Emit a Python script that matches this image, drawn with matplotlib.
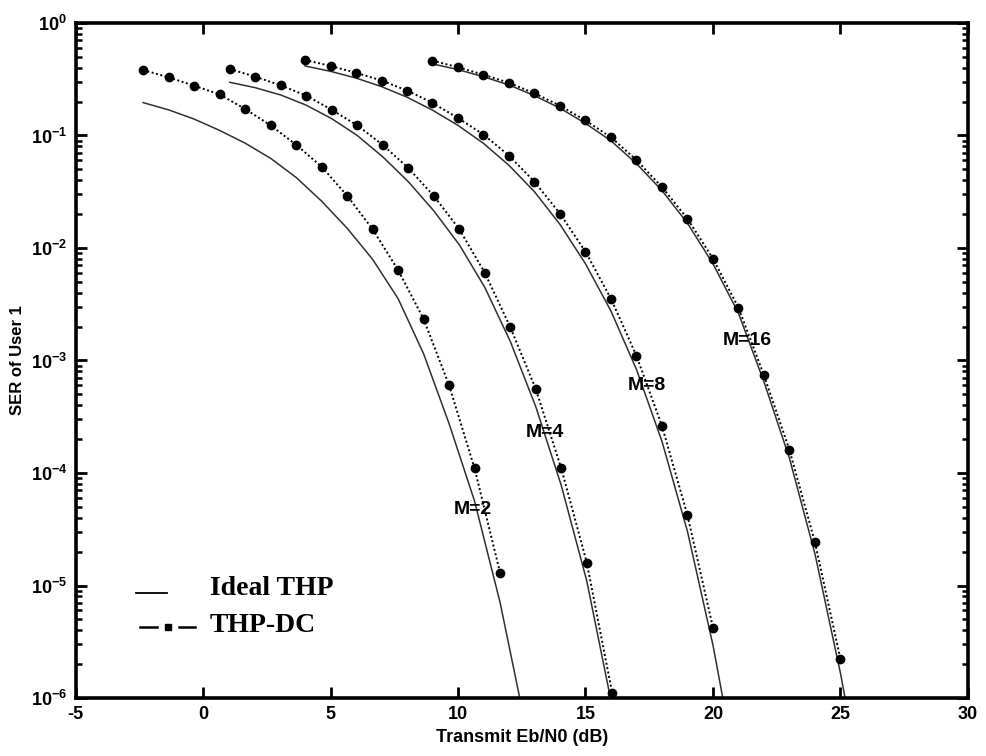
import numpy as np
import matplotlib
matplotlib.use("Agg")
import matplotlib.pyplot as plt
from matplotlib.ticker import LogLocator, FuncFormatter, MultipleLocator, NullFormatter

plt.rcParams['font.family'] = ['Liberation Sans', 'DejaVu Sans']
plt.rcParams['font.weight'] = 'bold'
plt.rcParams['axes.unicode_minus'] = False
plt.rcParams['mathtext.fontset'] = 'custom'
plt.rcParams['mathtext.rm'] = 'Liberation Sans:bold'
plt.rcParams['mathtext.bf'] = 'Liberation Sans:bold'

# Eb/N0 grids (dB), 1 dB steps
ebn0_m2 = np.arange(-2.35, 12.7, 1.0)      # 16 points
ebn0_m4 = np.arange(1.05, 16.1, 1.0)       # 16 points
ebn0_m8 = np.arange(4.0, 21.5, 1.0)        # 18 points
ebn0_m16 = np.arange(9.0, 26.5, 1.0)       # 18 points

# ideal THP symbol error rate
ideal_m2 = [0.196, 0.169, 0.140, 0.111, 0.0855, 0.0627, 0.0424, 0.0261, 0.0150,
            7.94e-3, 3.55e-3, 1.15e-3, 2.75e-4, 5.62e-5, 7.08e-6, 5.62e-7]
ideal_m4 = [0.297, 0.266, 0.229, 0.186, 0.141, 0.100, 0.0646, 0.0389, 0.0214,
            0.0107, 4.47e-3, 1.48e-3, 3.89e-4, 7.76e-5, 1.10e-5, 8.32e-7]
ideal_m8 = [0.415, 0.372, 0.324, 0.272, 0.219, 0.168, 0.123, 0.0851, 0.0543,
            0.0316, 0.0162, 7.24e-3, 2.75e-3, 8.32e-4, 1.91e-4, 3.02e-5, 2.95e-6, 1.78e-7]
ideal_m16 = [0.433, 0.385, 0.333, 0.281, 0.226, 0.175, 0.128, 0.0897, 0.0562,
             0.0324, 0.0166, 7.24e-3, 2.63e-3, 6.46e-4, 1.35e-4, 1.91e-5, 1.66e-6, 1.0e-7]

# THP with decision-feedback compensation (THP-DC)
dc_m2 = [0.382, 0.329, 0.277, 0.232, 0.172, 0.123, 0.0828, 0.0528, 0.0292,
         0.0147, 6.37e-3, 2.34e-3, 6.03e-4, 1.10e-4, 1.30e-5]
dc_m4 = [0.390, 0.333, 0.279, 0.226, 0.169, 0.123, 0.0824, 0.0514, 0.0290,
         0.0147, 6.03e-3, 1.98e-3, 5.58e-4, 1.10e-4, 1.60e-5, 1.10e-6]
dc_m8 = [0.469, 0.415, 0.361, 0.308, 0.251, 0.195, 0.143, 0.102, 0.0661,
         0.0388, 0.0202, 9.27e-3, 3.54e-3, 1.10e-3, 2.62e-4, 4.21e-5, 4.22e-6]
dc_m16 = [0.462, 0.404, 0.347, 0.294, 0.237, 0.184, 0.136, 0.0964, 0.0605,
          0.0348, 0.0182, 8.04e-3, 2.94e-3, 7.38e-4, 1.60e-4, 2.42e-5, 2.21e-6]

curve_labels = ['M=2', 'M=4', 'M=8', 'M=16']
label_x = [10.59, 13.41, 17.41, 21.33]
label_y = [4.7e-5, 2.27e-4, 6.05e-4, 1.52e-3]

fig = plt.figure(figsize=(9.86, 7.56), dpi=100)
ax = fig.add_axes([0.0766, 0.0767, 0.9051, 0.8929])

ideal = [(ebn0_m2, ideal_m2), (ebn0_m4, ideal_m4), (ebn0_m8, ideal_m8), (ebn0_m16, ideal_m16)]
dc = [(ebn0_m2, dc_m2), (ebn0_m4, dc_m4), (ebn0_m8, dc_m8), (ebn0_m16, dc_m16)]

for x, y in ideal:
    ax.plot(x[:len(y)], y, '-', color='#303030', lw=1.1)
for x, y in dc:
    ax.plot(x[:len(y)], y, color='black', lw=1.4, linestyle=(0, (1.0, 1.3)),
            marker='o', markersize=6, markerfacecolor='black', markeredgecolor='black')

for t, xx, yy in zip(curve_labels, label_x, label_y):
    ax.text(xx, yy, t, ha='center', va='center', fontsize=14, fontweight='bold')

ax.set_yscale('log')
ax.set_xlim(-5, 30)
ax.set_ylim(1e-6, 1e0)
ax.xaxis.set_major_locator(MultipleLocator(5))
ax.yaxis.set_major_locator(LogLocator(base=10, numticks=10))
ax.yaxis.set_minor_locator(LogLocator(base=10, subs=np.arange(2, 10), numticks=20))
ax.yaxis.set_minor_formatter(NullFormatter())
ax.yaxis.set_major_formatter(FuncFormatter(lambda v, p: r'$\mathbf{10^{%d}}$' % round(np.log10(v))))

ax.tick_params(which='both', direction='in', top=True, right=True, labelsize=13, width=2)
ax.tick_params(which='major', length=8, pad=6)
ax.tick_params(which='minor', length=4, width=1.8)
for s in ax.spines.values():
    s.set_linewidth(2.6)

ax.set_xlabel('Transmit Eb/N0 (dB)', fontsize=13, fontweight='bold', labelpad=4)
ax.set_ylabel('SER of User 1', fontsize=12, fontweight='bold', labelpad=4)

# legend drawn by hand in axes fraction
tr = ax.transAxes
ax.plot([0.0678, 0.1025], [0.1556, 0.1556], '-', color='black', lw=1.3, transform=tr)
ax.text(0.1507, 0.1615, 'Ideal THP', transform=tr, va='center', ha='left',
        fontsize=20, fontweight='bold', family='Liberation Serif')
ax.plot([0.0723, 0.0914], [0.105, 0.105], '-', color='black', lw=1.8, transform=tr)
ax.plot([0.1159, 0.1339], [0.105, 0.105], '-', color='black', lw=1.8, transform=tr)
ax.plot([0.1036], [0.105], 's', color='black', markersize=5, transform=tr)
ax.text(0.1507, 0.1081, 'THP-DC', transform=tr, va='center', ha='left',
        fontsize=20, fontweight='bold', family='Liberation Serif')

fig.savefig('out.png', dpi=100)
